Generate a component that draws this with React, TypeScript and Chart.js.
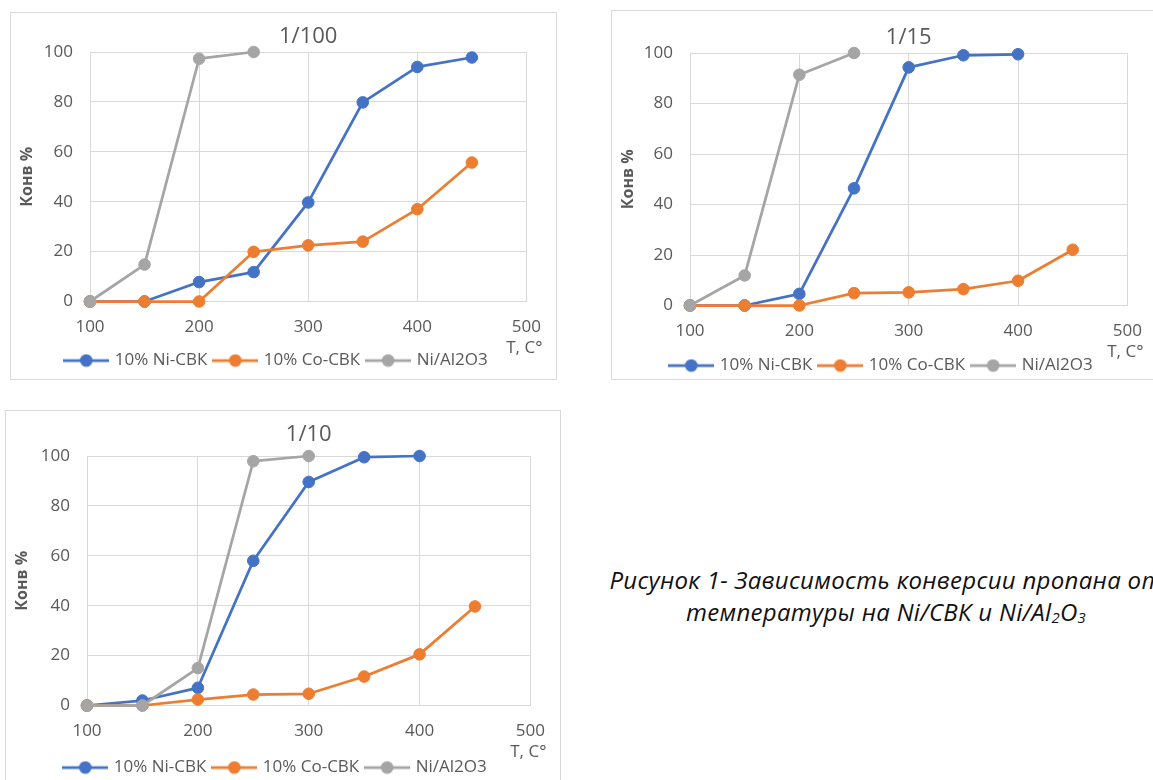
import React, { useEffect, useRef } from "react";
import { Chart, registerables } from "chart.js";

Chart.register(...registerables);

// Reaction temperatures, °C
const temperatures = [100, 150, 200, 250, 300, 350, 400, 450];
const seriesLabels = ["10% Ni-СВК", "10% Co-СВК", "Ni/Al2O3"];
const seriesColors = ["#4472C4", "#ED7D31", "#A5A5A5"];
const xTickValues = [100, 200, 300, 400, 500];
const yTickValues = [0, 20, 40, 60, 80, 100];

// Propane conversion, %, ratio 1/100
const ni1to100 = [0, 0, 7.8, 11.8, 39.7, 79.8, 94, 97.8];
const co1to100 = [0, 0, 0, 19.9, 22.5, 24, 37, 55.7];
const al1to100 = [0, 14.8, 97.3, 100, null, null, null, null];

// Propane conversion, %, ratio 1/15
const ni1to15 = [0, 0, 4.6, 46.4, 94.3, 99.1, 99.5, null];
const co1to15 = [0, 0, 0, 4.9, 5.2, 6.5, 9.8, 22.1];
const al1to15 = [0, 11.9, 91.4, 100, null, null, null, null];

// Propane conversion, %, ratio 1/10
const ni1to10 = [0, 2, 7.1, 58, 89.6, 99.5, 100, null];
const co1to10 = [0, 0, 2.4, 4.4, 4.7, 11.6, 20.5, 39.7];
const al1to10 = [0, 0, 15, 97.9, 100, null, null, null];

const FONT = "'Open Sans', 'Noto Sans', sans-serif";
const TEXT_COLOR = "#595959";
const GRID_COLOR = "#D9D9D9";
const TITLE_SIZE = 22;
const TICK_SIZE = 17;
const LEGEND_SIZE = 17;
const LEGEND_PAD = 8;

type Frame = {
  box: [number, number, number, number]; // left, top, width, height
  plot: [number, number, number, number]; // left, top, right, bottom
  titleY: number;
  legendY: number;
  legendX: number;
};

const toPoints = (values: (number | null)[]) =>
  temperatures.flatMap((t, i) =>
    values[i] == null ? [] : [{ x: t, y: values[i] as number }]
  );

function makeLegendIcon(color: string) {
  const c = document.createElement("canvas");
  c.width = 46;
  c.height = 14;
  const g = c.getContext("2d")!;
  g.strokeStyle = color;
  g.lineWidth = 2.75;
  g.beginPath();
  g.moveTo(0, 7);
  g.lineTo(46, 7);
  g.stroke();
  g.fillStyle = color;
  g.beginPath();
  g.arc(23, 7, 6.3, 0, Math.PI * 2);
  g.fill();
  return c;
}

// Draws the "T, C°" caption under the right end of the temperature axis
const axisCaption = {
  id: "axisCaption",
  afterDraw(chart: any, _args: any, opts: any) {
    const { ctx, chartArea } = chart;
    ctx.save();
    ctx.font = `${TICK_SIZE}px ${FONT}`;
    ctx.fillStyle = TEXT_COLOR;
    ctx.textAlign = "right";
    ctx.textBaseline = "middle";
    ctx.fillText(opts.text, chartArea.right + opts.dx, chartArea.bottom + opts.dy);
    ctx.restore();
  },
};

// Centres the legend row on a given x position
const legendCentre = {
  id: "legendCentre",
  afterLayout(chart: any, _args: any, opts: any) {
    const lg = chart.legend;
    if (!lg) return;
    const dx = opts.x - (lg.left + lg.right) / 2;
    lg.left += dx;
    lg.right += dx;
  },
};

function ConversionChart({
  title,
  series,
  frame,
}: {
  title: string;
  series: (number | null)[][];
  frame: Frame;
}) {
  const ref = useRef<HTMLCanvasElement>(null);
  const [bl, bt, bw, bh] = frame.box;
  const [pl, pt, pr, pb] = frame.plot;
  const cl = bl + 1;
  const ct = bt + 1;
  const cw = bw - 2;
  const titleLH = TITLE_SIZE * 1.2;
  const padTop = frame.titleY - ct - titleLH / 2;
  const titlePadBottom = pt - ct - padTop - titleLH;
  const legendTop = frame.legendY - LEGEND_PAD - LEGEND_SIZE / 2;
  const xAxisHeight = legendTop - pb;
  const legendHeight = LEGEND_SIZE + LEGEND_PAD + 10;
  const ch = Math.round(legendTop + legendHeight - ct);
  const yAxisWidth = pl - cl;
  const padRight = cl + cw - pr;

  useEffect(() => {
    const icons = seriesColors.map(makeLegendIcon);
    const chart = new Chart(ref.current!, {
      type: "line",
      data: {
        datasets: series.map((values, i) => ({
          label: seriesLabels[i],
          data: toPoints(values),
          borderColor: seriesColors[i],
          backgroundColor: seriesColors[i],
          borderWidth: 2.75,
          borderJoinStyle: "round",
          borderCapStyle: "round",
          pointRadius: 5.8,
          pointBorderWidth: 1,
          pointBackgroundColor: seriesColors[i],
          pointBorderColor: seriesColors[i],
          tension: 0,
          clip: false,
          // later series are painted on top of earlier ones
          order: series.length - 1 - i,
        })),
      },
      options: {
        animation: false,
        responsive: false,
        events: [],
        layout: {
          padding: { top: padTop, left: 0, right: padRight, bottom: 0 },
        },
        scales: {
          x: {
            type: "linear",
            min: xTickValues[0],
            max: xTickValues[xTickValues.length - 1],
            afterBuildTicks: (scale: any) => {
              scale.ticks = xTickValues.map((v) => ({ value: v }));
            },
            afterFit: (scale: any) => {
              scale.height = xAxisHeight;
            },
            grid: { color: GRID_COLOR, lineWidth: 1, drawTicks: false },
            border: { display: true, color: GRID_COLOR, width: 1 },
            ticks: {
              color: TEXT_COLOR,
              font: { family: FONT, size: TICK_SIZE },
              padding: 15,
              maxRotation: 0,
            },
          },
          y: {
            type: "linear",
            min: yTickValues[0],
            max: yTickValues[yTickValues.length - 1],
            afterBuildTicks: (scale: any) => {
              scale.ticks = yTickValues.map((v) => ({ value: v }));
            },
            afterFit: (scale: any) => {
              scale.width = yAxisWidth;
            },
            grid: { color: GRID_COLOR, lineWidth: 1, drawTicks: false },
            border: { display: true, color: GRID_COLOR, width: 1 },
            ticks: {
              color: TEXT_COLOR,
              font: { family: FONT, size: TICK_SIZE },
              padding: 17,
            },
            title: {
              display: true,
              text: "Конв %",
              color: TEXT_COLOR,
              font: { family: FONT, size: 16, weight: "bold" },
              padding: { top: 7, bottom: 0 },
            },
          },
        },
        plugins: {
          title: {
            display: true,
            fullSize: false,
            text: title,
            color: TEXT_COLOR,
            font: { family: FONT, size: TITLE_SIZE, weight: "normal" },
            padding: { top: 0, bottom: titlePadBottom },
          },
          legend: {
            display: true,
            position: "bottom",
            labels: {
              usePointStyle: true,
              pointStyleWidth: 40,
              padding: LEGEND_PAD,
              color: TEXT_COLOR,
              font: { family: FONT, size: LEGEND_SIZE },
              generateLabels: (c: any) =>
                c.data.datasets.map((ds: any, i: number) => ({
                  text: ds.label,
                  fillStyle: seriesColors[i],
                  strokeStyle: seriesColors[i],
                  lineWidth: 0,
                  hidden: false,
                  datasetIndex: i,
                  pointStyle: icons[i],
                  fontColor: TEXT_COLOR,
                })),
            },
          },
          tooltip: { enabled: false },
          axisCaption: { text: "T, C°", dx: 16, dy: 47 },
          legendCentre: { x: frame.legendX - cl },
        } as any,
      },
      plugins: [axisCaption, legendCentre],
    } as any);
    return () => chart.destroy();
  }, []);

  return (
    <>
      <div
        style={{
          position: "absolute",
          left: bl,
          top: bt,
          width: bw,
          height: bh,
          border: `1px solid ${GRID_COLOR}`,
          boxSizing: "border-box",
          background: "#fff",
        }}
      />
      <canvas
        ref={ref}
        width={cw}
        height={ch}
        style={{ position: "absolute", left: cl, top: ct, width: cw, height: ch }}
      />
    </>
  );
}

const subStyle: React.CSSProperties = {
  fontSize: "0.62em",
  verticalAlign: "-0.12em",
};

export default function App() {
  return (
    <div
      style={{
        position: "absolute",
        left: 0,
        top: 0,
        width: 1153,
        height: 780,
        overflow: "hidden",
        background: "#fff",
      }}
    >
      <ConversionChart
        title="1/100"
        series={[ni1to100, co1to100, al1to100]}
        frame={{ box: [10, 12, 547, 368], plot: [90, 52, 528, 301], titleY: 37, legendY: 360, legendX: 277 }}
      />
      <ConversionChart
        title="1/15"
        series={[ni1to15, co1to15, al1to15]}
        frame={{ box: [611, 10, 547, 370], plot: [690, 53, 1128, 305], titleY: 38, legendY: 365, legendX: 882 }}
      />
      <ConversionChart
        title="1/10"
        series={[ni1to10, co1to10, al1to10]}
        frame={{ box: [5, 410, 556, 378], plot: [87, 456, 531, 705], titleY: 435, legendY: 767, legendX: 276 }}
      />
      <div
        style={{
          position: "absolute",
          left: 586,
          top: 564,
          width: 600,
          textAlign: "center",
          fontFamily: FONT,
          fontStyle: "italic",
          fontSize: 24,
          letterSpacing: "0.3px",
          lineHeight: "32px",
          color: "#111",
          whiteSpace: "nowrap",
        }}
      >
        <div>Рисунок 1- Зависимость конверсии пропана от</div>
        <div>
          температуры на Ni/СВК и Ni/Al<span style={subStyle}>2</span>O
          <span style={subStyle}>3</span>
        </div>
      </div>
    </div>
  );
}
